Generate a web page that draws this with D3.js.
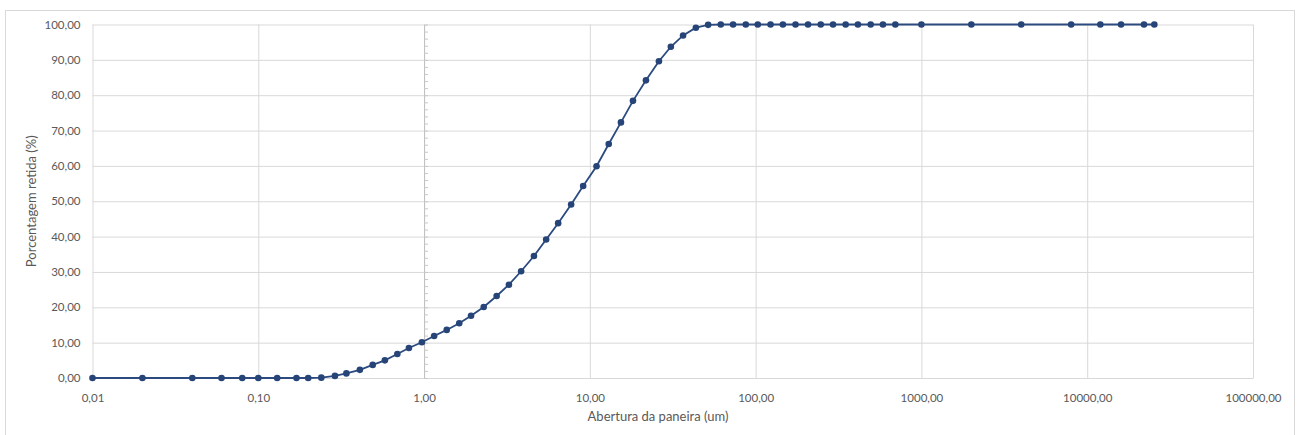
<!DOCTYPE html>
<html>
<head>
<meta charset="utf-8">
<script src="https://cdn.jsdelivr.net/npm/d3@7"></script>
<style>
  body { margin: 0; background: #fff; }
  .tick text { font-family: Lato, "Open Sans", sans-serif; font-size: 11.5px; fill: #595959; }
  .axisText { font-family: Lato, "Open Sans", sans-serif; font-size: 13px; fill: #595959; }
</style>
</head>
<body>
<div class="chart"></div>
<script>
// sieve opening (um) and cumulative retained (%)
var aberturas = [0.01, 0.02, 0.04, 0.06, 0.08, 0.10, 0.13, 0.17, 0.20, 0.24,
  0.29, 0.34, 0.41, 0.49, 0.58, 0.69, 0.81, 0.97, 1.15, 1.37,
  1.63, 1.92, 2.29, 2.74, 3.25, 3.85, 4.60, 5.45, 6.44, 7.71,
  9.11, 10.97, 13.0, 15.4, 18.2, 21.8, 26.1, 30.8, 36.5, 43.6,
  51.7, 61.6, 73.1, 87.2, 103, 123, 146, 174, 207, 247,
  293, 349, 414, 494, 586, 696, 1000, 2000, 4000, 8000,
  12000, 16000, 22000, 25400];
var retida = [0, 0, 0, 0, 0, 0, 0, 0, 0, 0.1,
  0.6, 1.3, 2.3, 3.7, 5.0, 6.8, 8.5, 10.1, 11.9, 13.6,
  15.5, 17.6, 20.1, 23.2, 26.4, 30.2, 34.5, 39.2, 43.8, 49.1,
  54.3, 59.9, 66.2, 72.3, 78.4, 84.2, 89.6, 93.7, 96.9, 99.1,
  99.9, 100, 100, 100, 100, 100, 100, 100, 100, 100,
  100, 100, 100, 100, 100, 100, 100, 100, 100, 100,
  100, 100, 100, 100];
var xTicks = [0.01, 0.1, 1, 10, 100, 1000, 10000, 100000];
var yTicks = [0, 10, 20, 30, 40, 50, 60, 70, 80, 90, 100];

var svgWidth = 1298;
var svgHeight = 435;
var margin = { top: 24.5, right: 45, bottom: 57, left: 92.5 };
var width = svgWidth - margin.left - margin.right;
var height = svgHeight - margin.top - margin.bottom;

var data = aberturas.map((a, i) => ({ x: a, y: retida[i] }));

var svg = d3.select(".chart")
  .append("svg")
  .attr("width", svgWidth)
  .attr("height", svgHeight);

// outer chart border
svg.append("rect")
  .attr("x", 5.5).attr("y", 10.5)
  .attr("width", 1289).attr("height", 430)
  .attr("fill", "none")
  .attr("stroke", "#d9d9d9");

var chartGroup = svg.append("g")
  .attr("transform", `translate(${margin.left}, ${margin.top})`);

var xLogScale = d3.scaleLog().domain([0.01, 100000]).range([0, width]);
var yLinearScale = d3.scaleLinear().domain([0, 100]).range([height, 0]);

var ptBR = d3.formatLocale({ decimal: ",", thousands: "", grouping: [3], currency: ["", ""] });
var fmt = ptBR.format(".2f");

// gridlines
chartGroup.append("g")
  .attr("class", "grid")
  .call(d3.axisLeft(yLinearScale).tickValues(yTicks).tickSize(-width).tickFormat(""))
  .call(g => g.select(".domain").remove())
  .call(g => g.selectAll("line").attr("stroke", "#d9d9d9"));

chartGroup.append("g")
  .attr("class", "grid")
  .call(d3.axisBottom(xLogScale).tickValues(xTicks).tickSize(height).tickFormat(""))
  .call(g => g.select(".domain").remove())
  .call(g => g.selectAll("line").attr("stroke", "#d9d9d9"));

// tick labels
var bottomAxis = d3.axisBottom(xLogScale).tickValues(xTicks).tickSize(0).tickPadding(16).tickFormat(fmt);
chartGroup.append("g")
  .attr("transform", `translate(0, ${height})`)
  .call(bottomAxis)
  .call(g => g.select(".domain").attr("stroke", "#d9d9d9"));

var leftAxis = d3.axisLeft(yLinearScale).tickValues(yTicks).tickSize(0).tickPadding(12).tickFormat(fmt);
chartGroup.append("g")
  .call(leftAxis)
  .call(g => g.select(".domain").remove());

// vertical axis line crossing at 1 with minor ticks
chartGroup.append("g")
  .attr("transform", `translate(${xLogScale(1)}, 0)`)
  .call(d3.axisRight(yLinearScale).tickValues(d3.range(0, 101, 2)).tickSize(4).tickSizeOuter(0).tickFormat(""))
  .call(g => g.selectAll("line").attr("stroke", "#c8c8c8"))
  .call(g => g.select(".domain").attr("stroke", "#bfbfbf"));

// data line + markers
var line = d3.line()
  .x(d => xLogScale(d.x))
  .y(d => yLinearScale(d.y));

chartGroup.append("path")
  .datum(data)
  .attr("d", line)
  .attr("fill", "none")
  .attr("stroke", "#2b4a7f")
  .attr("stroke-width", 1.8);

chartGroup.selectAll("circle")
  .data(data)
  .enter()
  .append("circle")
  .attr("cx", d => xLogScale(d.x))
  .attr("cy", d => yLinearScale(d.y))
  .attr("r", 3.3)
  .attr("fill", "#264478");

// axes labels
chartGroup.append("text")
  .attr("class", "axisText")
  .attr("transform", "rotate(-90)")
  .attr("x", 0 - height / 2)
  .attr("y", 0 - margin.left + 36)
  .attr("text-anchor", "middle")
  .text("Porcentagem retida (%)");

// Excel centres this title on the chart box, not the plot area
chartGroup.append("text")
  .attr("class", "axisText")
  .attr("x", 658 - margin.left)
  .attr("y", height + 43)
  .attr("text-anchor", "middle")
  .text("Abertura da paneira (um)");
</script>
</body>
</html>
